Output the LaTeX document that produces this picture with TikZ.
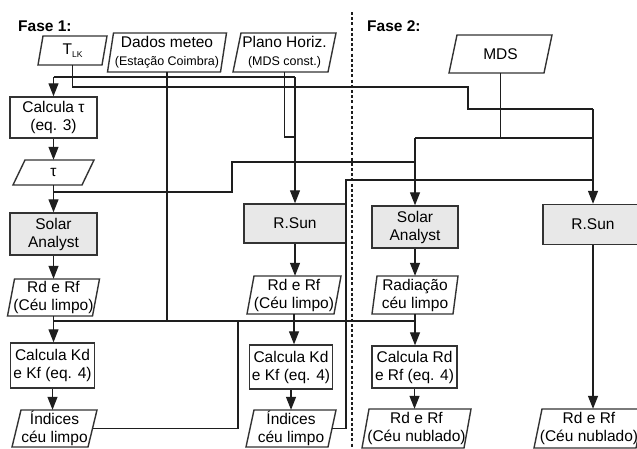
\documentclass[tikz,border=0pt]{standalone}
\usepackage{fontspec}
\setmainfont{Liberation Sans}
\usetikzlibrary{arrows.meta}
\definecolor{ln}{HTML}{1E1E1E}
\definecolor{bx}{HTML}{333333}
\definecolor{gfill}{HTML}{E8E8E8}
\newcommand\mainf{\fontsize{15.5}{18}\selectfont}
\newcommand\smallf{\fontsize{12.5}{14}\selectfont}
\tikzset{
 conn/.style={draw=ln, line width=1.25pt},
 arr/.style={conn, -{Triangle[length=13pt,width=10pt]}},
 boxn/.style={draw=bx, line width=1.4pt, rectangle, inner sep=0pt, align=center, font=\mainf},
 grayb/.style={boxn, fill=gfill},
 pline/.style={draw=bx, line width=1.4pt, fill=white},
 ptext/.style={inner sep=0pt, align=center, font=\mainf},
 phase/.style={inner sep=0pt, anchor=base west, font=\mainf\bfseries},
}
% name, cx, cy, w, h, slant, text
\newcommand{\pgram}[7]{%
 \draw[pline] (#2-#4/2-#6/2, #3+#5/2) -- (#2+#4/2-#6/2, #3+#5/2) -- (#2+#4/2+#6/2, #3-#5/2) -- (#2-#4/2+#6/2, #3-#5/2) -- cycle;
 \node[ptext, minimum width=#4, minimum height=#5] (#1) at (#2,#3) {#7};
}
\begin{document}
\begin{tikzpicture}[x=1pt,y=-1pt]
\useasboundingbox (0,0) rectangle (637,448);
\fill[white] (0,0) rectangle (637,448);

% phase labels
\node[phase] (f1) at (18,31.5) {Fase 1:};
\node[phase] (f2) at (367,31.5) {Fase 2:};

% divider
\draw[draw=ln, line width=2.6pt, dash pattern=on 3pt off 2.2pt] (352,12) -- (352,448);

% rectangles
\node[boxn, minimum width=87, minimum height=41] (ctau) at (53.5,117.5) {Calcula τ\\(eq. 3)};
\node[grayb, minimum width=87, minimum height=42] (sa1) at (53.5,234) {Solar\\Analyst};
\node[boxn, minimum width=84, minimum height=45] (ck1) at (52.5,365.5) {Calcula Kd\\e Kf (eq. 4)};
\node[grayb, minimum width=102, minimum height=39] (rs1) at (295,223.5) {R.Sun};
\node[boxn, minimum width=83, minimum height=44] (ck2) at (291,367) {Calcula Kd\\e Kf (eq. 4)};
\node[grayb, minimum width=86, minimum height=42] (sa2) at (415,227) {Solar\\Analyst};
\node[boxn, minimum width=85, minimum height=42] (crd) at (414.5,367) {Calcula Rd\\e Rf (eq. 4)};
\node[grayb, minimum width=100, minimum height=40] (rs2) at (593,224.5) {R.Sun};

% parallelograms
\pgram{tlk}{72.5}{50.5}{64}{29}{5}{T\raisebox{-3.5pt}{\fontsize{8.5}{9}\selectfont LK}}
\pgram{dados}{167}{52.5}{113}{39}{6}{Dados meteo\\{\smallf (Estação Coimbra)}}
\pgram{plano}{284.5}{52.5}{95}{39}{8}{Plano Horiz.\\{\smallf (MDS const.)}}
\pgram{mds}{500.5}{54}{95}{38}{8}{MDS}
\pgram{tau}{53.5}{172.5}{69}{25}{12}{τ}
\pgram{rdrf1}{53.5}{297.5}{85}{37}{7}{Rd e Rf\\(Céu limpo)}
\pgram{ind1}{54.5}{428.5}{76}{37}{9}{Índices\\céu limpo}
\pgram{rdrf2}{294}{295}{87}{38}{7}{Rd e Rf\\(Céu limpo)}
\pgram{ind2}{291}{428.5}{82}{37}{8}{Índices\\céu limpo}
\pgram{rad}{415}{295}{81}{38}{5}{Radiação\\céu limpo}
\pgram{rdn1}{416.5}{428.5}{102}{39}{7}{Rd e Rf\\(Céu nublado)}
\pgram{rdn2}{589}{428.5}{102}{39}{8}{Rd e Rf\\(Céu nublado)}

% junction coordinates
\coordinate (t87) at (72.5,87);
\coordinate (r87) at (468,87);
\coordinate (r109) at (468,109);
\coordinate (s109) at (593,109);
\coordinate (m138) at (500.5,138);
\coordinate (l138) at (415,138);
\coordinate (rr138) at (593,138);
\coordinate (a77) at (53.5,77);
\coordinate (b77) at (295,77);
\coordinate (p137) at (284.5,137);
\coordinate (q137) at (295,137);
\coordinate (h1) at (53.5,321);
\coordinate (h2) at (414.5,321);
\coordinate (t192) at (53.5,192);
\coordinate (u192) at (232,192);
\coordinate (u162) at (232,162);
\coordinate (v162) at (415,162);
\coordinate (i427) at (238,428.5);
\coordinate (i321) at (238,321);
\coordinate (k428) at (346,428.5);
\coordinate (k180) at (346,180);
\coordinate (k180r) at (593,180);

% connectors
\draw[conn] (tlk.south) -- (t87) -- (r87) -- (r109) -- (s109);
\draw[arr] (s109) -- (rs2.north);
\draw[conn] (mds.south) -- (m138);
\draw[conn] (l138) -- (rr138);
\draw[arr] (l138) -- (sa2.north);
\draw[conn] (a77) -- (b77);
\draw[arr] (a77) -- (ctau.north);
\draw[arr] (b77) -- (rs1.north);
\draw[conn] (plano.south) -- (p137) -- (q137);
\draw[conn] (h1) -- (h2);
\draw[conn] (dados.south) -- (dados.south |- h1);
\draw[conn] (t192) -- (u192) -- (u162) -- (v162);
\draw[conn] (ind1.east) -- (i427) -- (i321);
\draw[conn] (ind2.east) -- (k428) -- (k180) -- (k180r);

\draw[arr] (ctau.south) -- (ctau.south |- tau.north);
\draw[arr] (tau.south) -- (tau.south |- sa1.north);
\draw[arr] (sa1.south) -- (sa1.south |- rdrf1.north);
\draw[arr] (rdrf1.south) -- (rdrf1.south |- ck1.north);
\draw[arr] (ck1.south) -- (ck1.south |- ind1.north);
\draw[arr] (rs1.south) -- (rs1.south |- rdrf2.north);
\draw[arr] (rdrf2.south) -- (rdrf2.south |- ck2.north);
\draw[arr] (ck2.south) -- (ck2.south |- ind2.north);
\draw[arr] (sa2.south) -- (sa2.south |- rad.north);
\draw[arr] (rad.south) -- (rad.south |- crd.north);
\draw[arr] (crd.south) -- (crd.south |- rdn1.north);
\draw[arr] (rs2.south) -- (rs2.south |- rdn2.north);
\end{tikzpicture}
\end{document}
